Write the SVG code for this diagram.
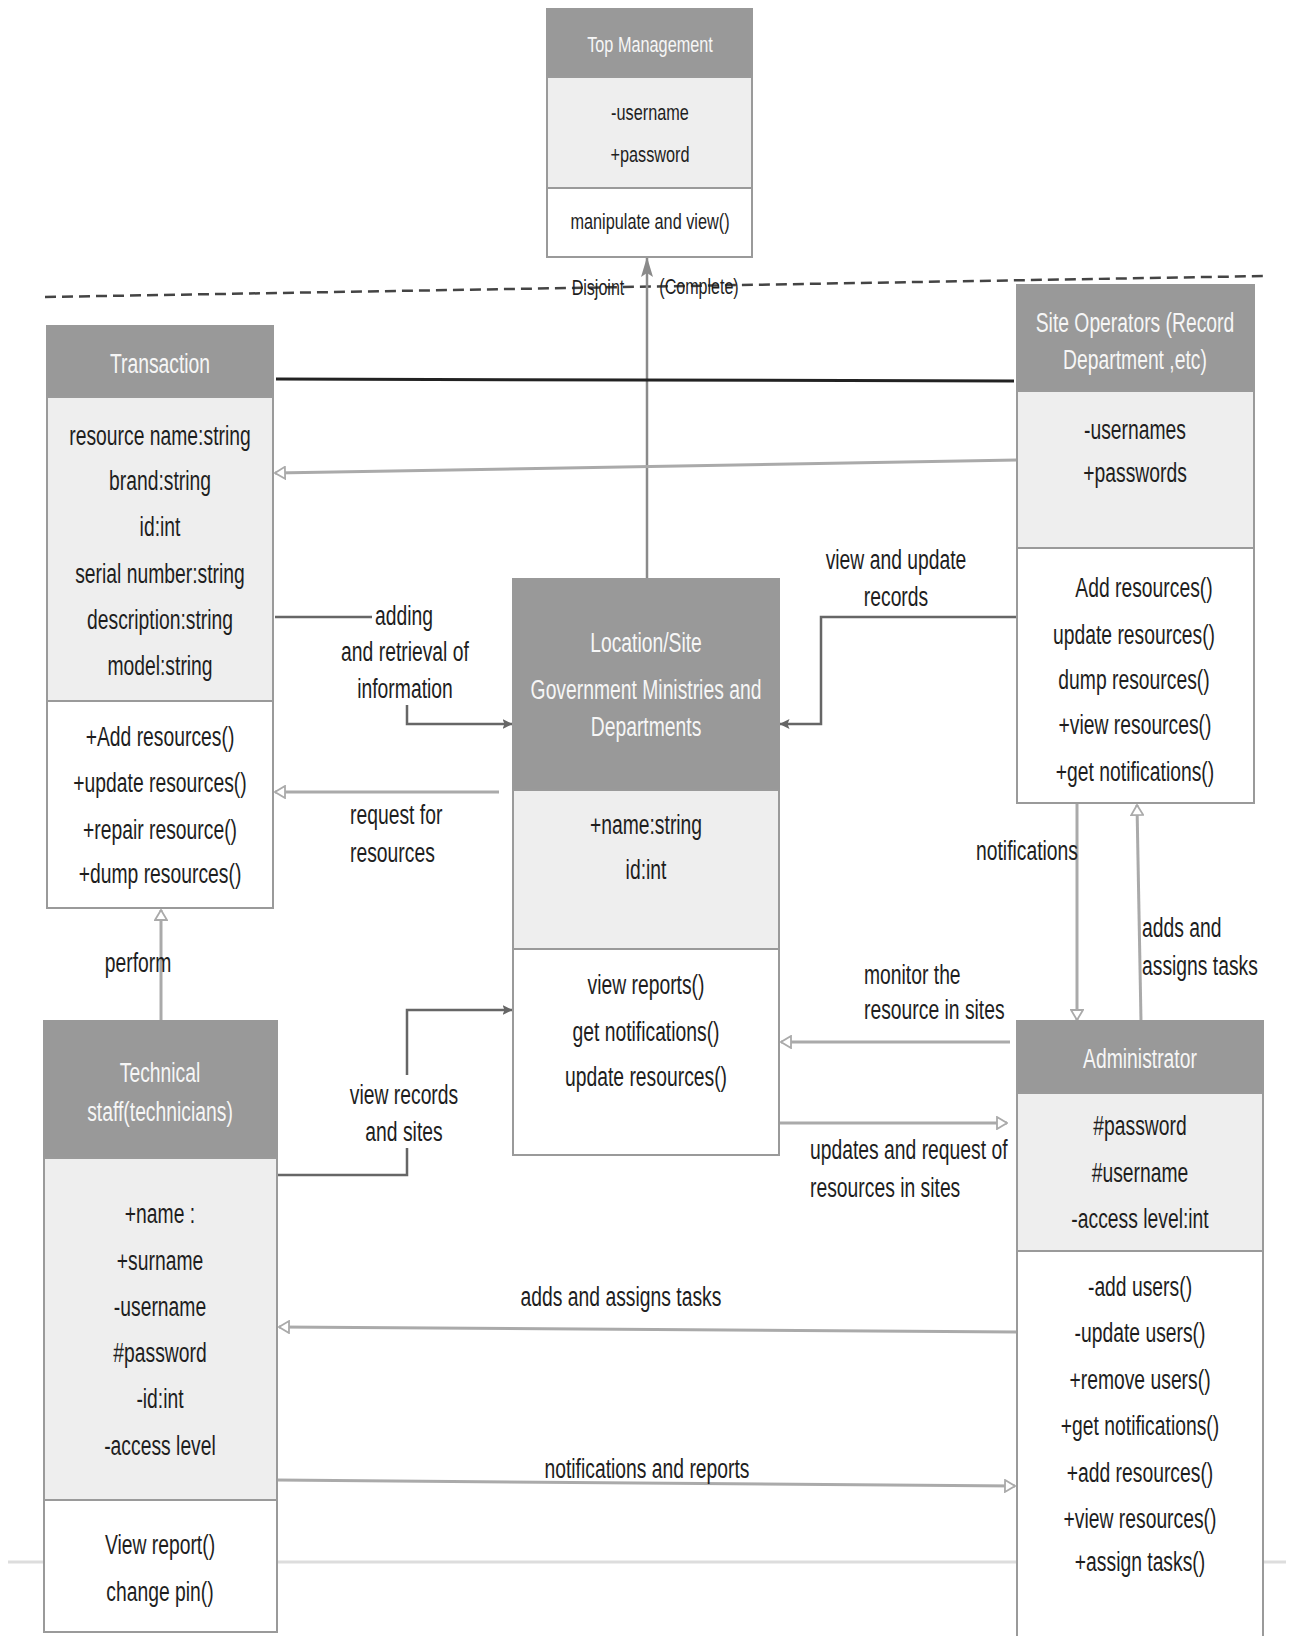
<svg xmlns="http://www.w3.org/2000/svg" width="1290" height="1636" viewBox="0 0 1290 1636">
<defs>
<style>
.t{font-family:"Liberation Sans",Arial,sans-serif;font-size:28px;fill:#1e1e1e;text-anchor:middle}
.s{text-anchor:start}
.h{fill:#f6f6f6}
.sm{font-size:22px}
.hd{fill:#999;stroke:#999;stroke-width:2}
.at{fill:#eee;stroke:#9a9a9a;stroke-width:2}
.me{fill:#fff;stroke:#9a9a9a;stroke-width:2}
.lt{fill:none;stroke:#aaa;stroke-width:3}
.dk{fill:none;stroke:#666;stroke-width:2.5}
</style>
<marker id="open" viewBox="0 0 12 14" refX="11" refY="7" markerWidth="12" markerHeight="14" markerUnits="userSpaceOnUse" orient="auto">
<path d="M1,1 L11,7 L1,13 Z" fill="#fff" stroke="#aaa" stroke-width="1.8"/>
</marker>
<marker id="solid" viewBox="0 0 10 10" refX="9.5" refY="5" markerWidth="10" markerHeight="10" markerUnits="userSpaceOnUse" orient="auto">
<path d="M0,0 L10,5 L0,10 L2,5 Z" fill="#666"/>
</marker>
<marker id="gen" viewBox="0 0 20 12" refX="19" refY="6" markerWidth="20" markerHeight="12" markerUnits="userSpaceOnUse" orient="auto">
<path d="M0,0 L20,6 L0,12 L4,6 Z" fill="#8a8a8a"/>
</marker>
</defs>

<!-- page rule behind the lower boxes -->
<line x1="8" y1="1562" x2="1286" y2="1562" stroke="#ddd" stroke-width="3"/>

<g id="connectors">
  <!-- generalisation set line with its labels -->
  <line x1="45" y1="297" x2="1266" y2="276" stroke="#444" stroke-width="2.5" stroke-dasharray="11 6"/>
  <text class="t sm" transform="matrix(.73 0 0 1 598 295)">Disjoint</text>
  <text class="t sm" transform="matrix(.73 0 0 1 699 294)">(Complete)</text>
  <line x1="647" y1="579" x2="647" y2="258" stroke="#8a8a8a" stroke-width="2.5" marker-end="url(#gen)"/>

  <!-- Transaction / Site Operators association -->
  <line x1="276" y1="379" x2="1014" y2="381" stroke="#222" stroke-width="3"/>
  <line class="lt" x1="1017" y1="460" x2="275" y2="473" marker-end="url(#open)"/>

  <!-- adding and retrieval of information -->
  <polyline class="dk" points="275,617 372,617"/>
  <polyline class="dk" points="407,705 407,724 512,724" marker-end="url(#solid)"/>
  <text class="t" transform="matrix(.69 0 0 1 404 625)">adding</text>
  <text class="t" transform="matrix(.69 0 0 1 405 661)">and retrieval of</text>
  <text class="t" transform="matrix(.69 0 0 1 405 698)">information</text>

  <!-- request for resources -->
  <line class="lt" x1="499" y1="792" x2="275" y2="792" marker-end="url(#open)"/>
  <text class="t s" transform="matrix(.69 0 0 1 350 824)">request for</text>
  <text class="t s" transform="matrix(.69 0 0 1 350 862)">resources</text>

  <!-- view and update records -->
  <polyline class="dk" points="1017,617 821,617 821,724 780,724" marker-end="url(#solid)"/>
  <text class="t" transform="matrix(.69 0 0 1 896 569)">view and update</text>
  <text class="t" transform="matrix(.69 0 0 1 896 606)">records</text>

  <!-- notifications (Site Operators to Administrator) -->
  <line class="lt" x1="1077" y1="803" x2="1077" y2="1020" marker-end="url(#open)"/>
  <text class="t" transform="matrix(.69 0 0 1 1027 860)">notifications</text>

  <!-- adds and assigns tasks (Administrator to Site Operators) -->
  <line class="lt" x1="1141" y1="1021" x2="1137" y2="805" marker-end="url(#open)"/>
  <text class="t s" transform="matrix(.69 0 0 1 1142 937)">adds and</text>
  <text class="t s" transform="matrix(.69 0 0 1 1142 975)">assigns tasks</text>

  <!-- monitor the resource in sites -->
  <line class="lt" x1="1010" y1="1042" x2="781" y2="1042" marker-end="url(#open)"/>
  <text class="t s" transform="matrix(.69 0 0 1 864 984)">monitor the</text>
  <text class="t s" transform="matrix(.69 0 0 1 864 1019)">resource in sites</text>

  <!-- updates and request of resources in sites -->
  <line class="lt" x1="779" y1="1123" x2="1007" y2="1123" marker-end="url(#open)"/>
  <text class="t s" transform="matrix(.69 0 0 1 810 1159)">updates and request of</text>
  <text class="t s" transform="matrix(.69 0 0 1 810 1197)">resources in sites</text>

  <!-- view records and sites -->
  <polyline class="dk" points="277,1175 407,1175 407,1148"/>
  <polyline class="dk" points="407,1075 407,1010 512,1010" marker-end="url(#solid)"/>
  <text class="t" transform="matrix(.69 0 0 1 404 1104)">view records</text>
  <text class="t" transform="matrix(.69 0 0 1 404 1141)">and sites</text>

  <!-- perform -->
  <line class="lt" x1="161" y1="1021" x2="161" y2="910" marker-end="url(#open)"/>
  <text class="t" transform="matrix(.69 0 0 1 138 972)">perform</text>

  <!-- adds and assigns tasks (Administrator to Technical staff) -->
  <line class="lt" x1="1017" y1="1332" x2="279" y2="1327" marker-end="url(#open)"/>
  <text class="t" transform="matrix(.69 0 0 1 621 1306)">adds and assigns tasks</text>

  <!-- notifications and reports -->
  <line class="lt" x1="277" y1="1480" x2="1015" y2="1486" marker-end="url(#open)"/>
  <text class="t" transform="matrix(.69 0 0 1 647 1478)">notifications and reports</text>
</g>

<g id="top-management">
  <rect class="hd" x="547" y="9" width="205" height="68"/>
  <rect class="at" x="547" y="77" width="205" height="111"/>
  <rect class="me" x="547" y="188" width="205" height="69"/>
  <text class="t sm h" transform="matrix(.74 0 0 1 650 52)">Top Management</text>
  <text class="t sm" transform="matrix(.74 0 0 1 650 120)">-username</text>
  <text class="t sm" transform="matrix(.74 0 0 1 650 162)">+password</text>
  <text class="t sm" transform="matrix(.74 0 0 1 650 229)">manipulate and view()</text>
</g>

<g id="transaction">
  <rect class="hd" x="47" y="326" width="226" height="71"/>
  <rect class="at" x="47" y="397" width="226" height="304"/>
  <rect class="me" x="47" y="701" width="226" height="207"/>
  <text class="t h" transform="matrix(.69 0 0 1 160 373)">Transaction</text>
  <text class="t" transform="matrix(.69 0 0 1 160 445)">resource name:string</text>
  <text class="t" transform="matrix(.69 0 0 1 160 490)">brand:string</text>
  <text class="t" transform="matrix(.69 0 0 1 160 536)">id:int</text>
  <text class="t" transform="matrix(.69 0 0 1 160 583)">serial number:string</text>
  <text class="t" transform="matrix(.69 0 0 1 160 629)">description:string</text>
  <text class="t" transform="matrix(.69 0 0 1 160 675)">model:string</text>
  <text class="t" transform="matrix(.69 0 0 1 160 746)">+Add resources()</text>
  <text class="t" transform="matrix(.69 0 0 1 160 792)">+update resources()</text>
  <text class="t" transform="matrix(.69 0 0 1 160 839)">+repair resource()</text>
  <text class="t" transform="matrix(.69 0 0 1 160 883)">+dump resources()</text>
</g>

<g id="site-operators">
  <rect class="hd" x="1017" y="285" width="237" height="106"/>
  <rect class="at" x="1017" y="391" width="237" height="157"/>
  <rect class="me" x="1017" y="548" width="237" height="255"/>
  <text class="t h" transform="matrix(.69 0 0 1 1135 332)">Site Operators (Record</text>
  <text class="t h" transform="matrix(.69 0 0 1 1135 369)">Department ,etc)</text>
  <text class="t" transform="matrix(.69 0 0 1 1135 439)">-usernames</text>
  <text class="t" transform="matrix(.69 0 0 1 1135 482)">+passwords</text>
  <text class="t" transform="matrix(.69 0 0 1 1144 597)">Add resources()</text>
  <text class="t" transform="matrix(.69 0 0 1 1134 644)">update resources()</text>
  <text class="t" transform="matrix(.69 0 0 1 1134 689)">dump resources()</text>
  <text class="t" transform="matrix(.69 0 0 1 1135 734)">+view resources()</text>
  <text class="t" transform="matrix(.69 0 0 1 1135 781)">+get notifications()</text>
</g>

<g id="location-site">
  <rect class="hd" x="513" y="579" width="266" height="211"/>
  <rect class="at" x="513" y="790" width="266" height="159"/>
  <rect class="me" x="513" y="949" width="266" height="206"/>
  <text class="t h" transform="matrix(.69 0 0 1 646 652)">Location/Site</text>
  <text class="t h" transform="matrix(.69 0 0 1 646 699)">Government Ministries and</text>
  <text class="t h" transform="matrix(.69 0 0 1 646 736)">Departments</text>
  <text class="t" transform="matrix(.69 0 0 1 646 834)">+name:string</text>
  <text class="t" transform="matrix(.69 0 0 1 646 879)">id:int</text>
  <text class="t" transform="matrix(.69 0 0 1 646 994)">view reports()</text>
  <text class="t" transform="matrix(.69 0 0 1 646 1041)">get notifications()</text>
  <text class="t" transform="matrix(.69 0 0 1 646 1086)">update resources()</text>
</g>

<g id="administrator">
  <rect class="hd" x="1017" y="1021" width="246" height="72"/>
  <rect class="at" x="1017" y="1093" width="246" height="158"/>
  <rect class="me" x="1017" y="1251" width="246" height="400"/>
  <text class="t h" transform="matrix(.69 0 0 1 1140 1068)">Administrator</text>
  <text class="t" transform="matrix(.69 0 0 1 1140 1135)">#password</text>
  <text class="t" transform="matrix(.69 0 0 1 1140 1182)">#username</text>
  <text class="t" transform="matrix(.69 0 0 1 1140 1228)">-access level:int</text>
  <text class="t" transform="matrix(.69 0 0 1 1140 1296)">-add users()</text>
  <text class="t" transform="matrix(.69 0 0 1 1140 1342)">-update users()</text>
  <text class="t" transform="matrix(.69 0 0 1 1140 1389)">+remove users()</text>
  <text class="t" transform="matrix(.69 0 0 1 1140 1435)">+get notifications()</text>
  <text class="t" transform="matrix(.69 0 0 1 1140 1482)">+add resources()</text>
  <text class="t" transform="matrix(.69 0 0 1 1140 1528)">+view resources()</text>
  <text class="t" transform="matrix(.69 0 0 1 1140 1571)">+assign tasks()</text>
</g>

<g id="technical-staff">
  <rect class="hd" x="44" y="1021" width="233" height="137"/>
  <rect class="at" x="44" y="1158" width="233" height="342"/>
  <rect class="me" x="44" y="1500" width="233" height="132"/>
  <text class="t h" transform="matrix(.69 0 0 1 160 1082)">Technical</text>
  <text class="t h" transform="matrix(.69 0 0 1 160 1121)">staff(technicians)</text>
  <text class="t" transform="matrix(.69 0 0 1 160 1223)">+name :</text>
  <text class="t" transform="matrix(.69 0 0 1 160 1270)">+surname</text>
  <text class="t" transform="matrix(.69 0 0 1 160 1316)">-username</text>
  <text class="t" transform="matrix(.69 0 0 1 160 1362)">#password</text>
  <text class="t" transform="matrix(.69 0 0 1 160 1408)">-id:int</text>
  <text class="t" transform="matrix(.69 0 0 1 160 1455)">-access level</text>
  <text class="t" transform="matrix(.69 0 0 1 160 1554)">View report()</text>
  <text class="t" transform="matrix(.69 0 0 1 160 1601)">change pin()</text>
</g>
</svg>
